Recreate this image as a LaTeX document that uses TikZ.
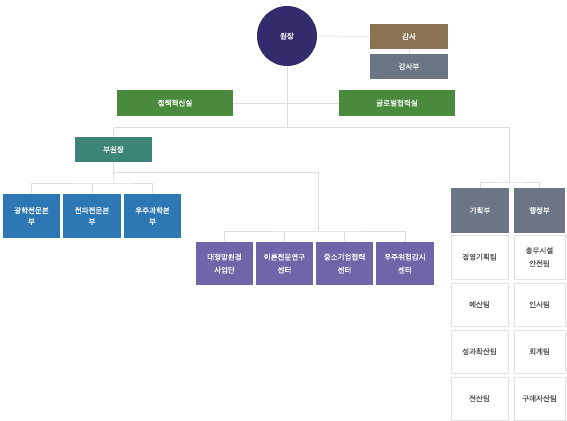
\documentclass[tikz,border=0pt]{standalone}
\usepackage{fontspec}
\setmainfont[FakeBold=0.5]{Noto Sans CJK KR}
\definecolor{cboss}{HTML}{342B6C}
\definecolor{caudit}{HTML}{8A7352}
\definecolor{cadept}{HTML}{6B7685}
\definecolor{cgreen}{HTML}{4A8A3C}
\definecolor{cteal}{HTML}{3D8577}
\definecolor{cblue}{HTML}{2E77B5}
\definecolor{cpurple}{HTML}{6F65A8}
\definecolor{cgrey}{HTML}{6B7585}
\definecolor{cline}{HTML}{DCDCDC}
\definecolor{cwhiteb}{HTML}{E2E2E2}
\definecolor{ctext}{HTML}{5A5A5A}
\tikzset{
  box/.style={rectangle, inner sep=0pt, text=white, align=center,
    font=\fontsize{7.5}{13}\selectfont},
  tight/.style={font=\fontsize{7.5}{11}\selectfont},
  wbox/.style={box, fill=white, draw=cwhiteb, line width=0.6pt, text=ctext},
  link/.style={draw=cline, line width=0.9pt},
}
\begin{document}
\begin{tikzpicture}[x=1pt,y=-1pt]
\useasboundingbox (0,0) rectangle (567,420);
\fill[white] (0,0) rectangle (567,420);

% nodes
\node[circle, fill=cboss, minimum size=60pt, inner sep=0pt, text=white, font=\fontsize{7.5}{9}\selectfont] (boss) at (287,36) {원장};
\node[box, fill=caudit, minimum width=78pt, minimum height=25pt] (audit) at (409,36.5) {감사};
\node[box, fill=cadept, minimum width=78pt, minimum height=25pt] (adept) at (409,66.5) {감사부};

\node[box, fill=cgreen, minimum width=116pt, minimum height=26pt] (policy) at (175,103) {정책혁신실};
\node[box, fill=cgreen, minimum width=116pt, minimum height=26pt] (global) at (397,103) {글로벌협력실};

\node[box, fill=cteal, minimum width=77pt, minimum height=25pt] (vice) at (113.5,149.5) {부원장};

\node[box, tight, fill=cblue, minimum width=57pt, minimum height=44pt] (b1) at (31.5,216) {광학전문본\\부};
\node[box, tight, fill=cblue, minimum width=58pt, minimum height=44pt] (b2) at (92,216) {전파전문본\\부};
\node[box, tight, fill=cblue, minimum width=57pt, minimum height=44pt] (b3) at (152.5,216) {우주과학본\\부};

\node[box, fill=cpurple, minimum width=57pt, minimum height=43pt] (p1) at (224.5,263.5) {대형망원경\\사업단};
\node[box, fill=cpurple, minimum width=57pt, minimum height=43pt] (p2) at (284.5,263.5) {이론천문연구\\센터};
\node[box, fill=cpurple, minimum width=57pt, minimum height=43pt] (p3) at (344.5,263.5) {중소기업협력\\센터};
\node[box, fill=cpurple, minimum width=58pt, minimum height=43pt] (p4) at (405,263.5) {우주위험감시\\센터};

\node[box, fill=cgrey, minimum width=58pt, minimum height=45pt] (g1) at (480,210.5) {기획부};
\node[box, fill=cgrey, minimum width=51pt, minimum height=45pt] (g2) at (539.5,210.5) {행정부};

\node[wbox, minimum width=57pt, minimum height=44pt] (w11) at (479.5,257) {경영기획팀};
\node[wbox, minimum width=57pt, minimum height=43pt] (w12) at (479.5,304.5) {예산팀};
\node[wbox, minimum width=57pt, minimum height=43pt] (w13) at (479.5,351.5) {성과확산팀};
\node[wbox, minimum width=57pt, minimum height=43pt] (w14) at (479.5,398.5) {전산팀};
\node[wbox, minimum width=51pt, minimum height=44pt] (w21) at (539.5,257) {총무시설\\안전팀};
\node[wbox, minimum width=51pt, minimum height=43pt] (w22) at (539.5,304.5) {인사팀};
\node[wbox, minimum width=51pt, minimum height=43pt] (w23) at (539.5,351.5) {회계팀};
\node[wbox, minimum width=51pt, minimum height=43pt] (w24) at (539.5,398.5) {구매자산팀};

% junction coordinates
\coordinate (jL) at (114,127);
\coordinate (jM) at (287,127);
\coordinate (jR) at (509,127);
\coordinate (vb) at (114,183);
\coordinate (pj) at (114,172);
\coordinate (pb) at (318,231);
\coordinate (gj) at (509,182);

% connectors
\draw[link, dash pattern=on 1.5pt off 1pt] (boss.east) -- (audit.west);
\draw[link] (audit.south) -- (adept.north);
\draw[link] (boss.south) -- (jM);
\draw[link] (policy.east) -- (global.west);
\draw[link] (jL) -- (jR);
\draw[link] (jL) -- (vice.north);
\draw[link] (vice.south) -- (vb);
\draw[link] (b1.north) |- (vb) -| (b3.north);
\draw[link] (b2.north) -- (b2.north |- vb);
\draw[link] (pj) -| (pb);
\draw[link] (p1.north) |- (pb) -| (p4.north);
\draw[link] (p2.north) -- (p2.north |- pb);
\draw[link] (p3.north) -- (p3.north |- pb);
\draw[link] (jR) -- (gj);
\draw[link] (g1.north) |- (gj) -| (g2.north);
\end{tikzpicture}
\end{document}
